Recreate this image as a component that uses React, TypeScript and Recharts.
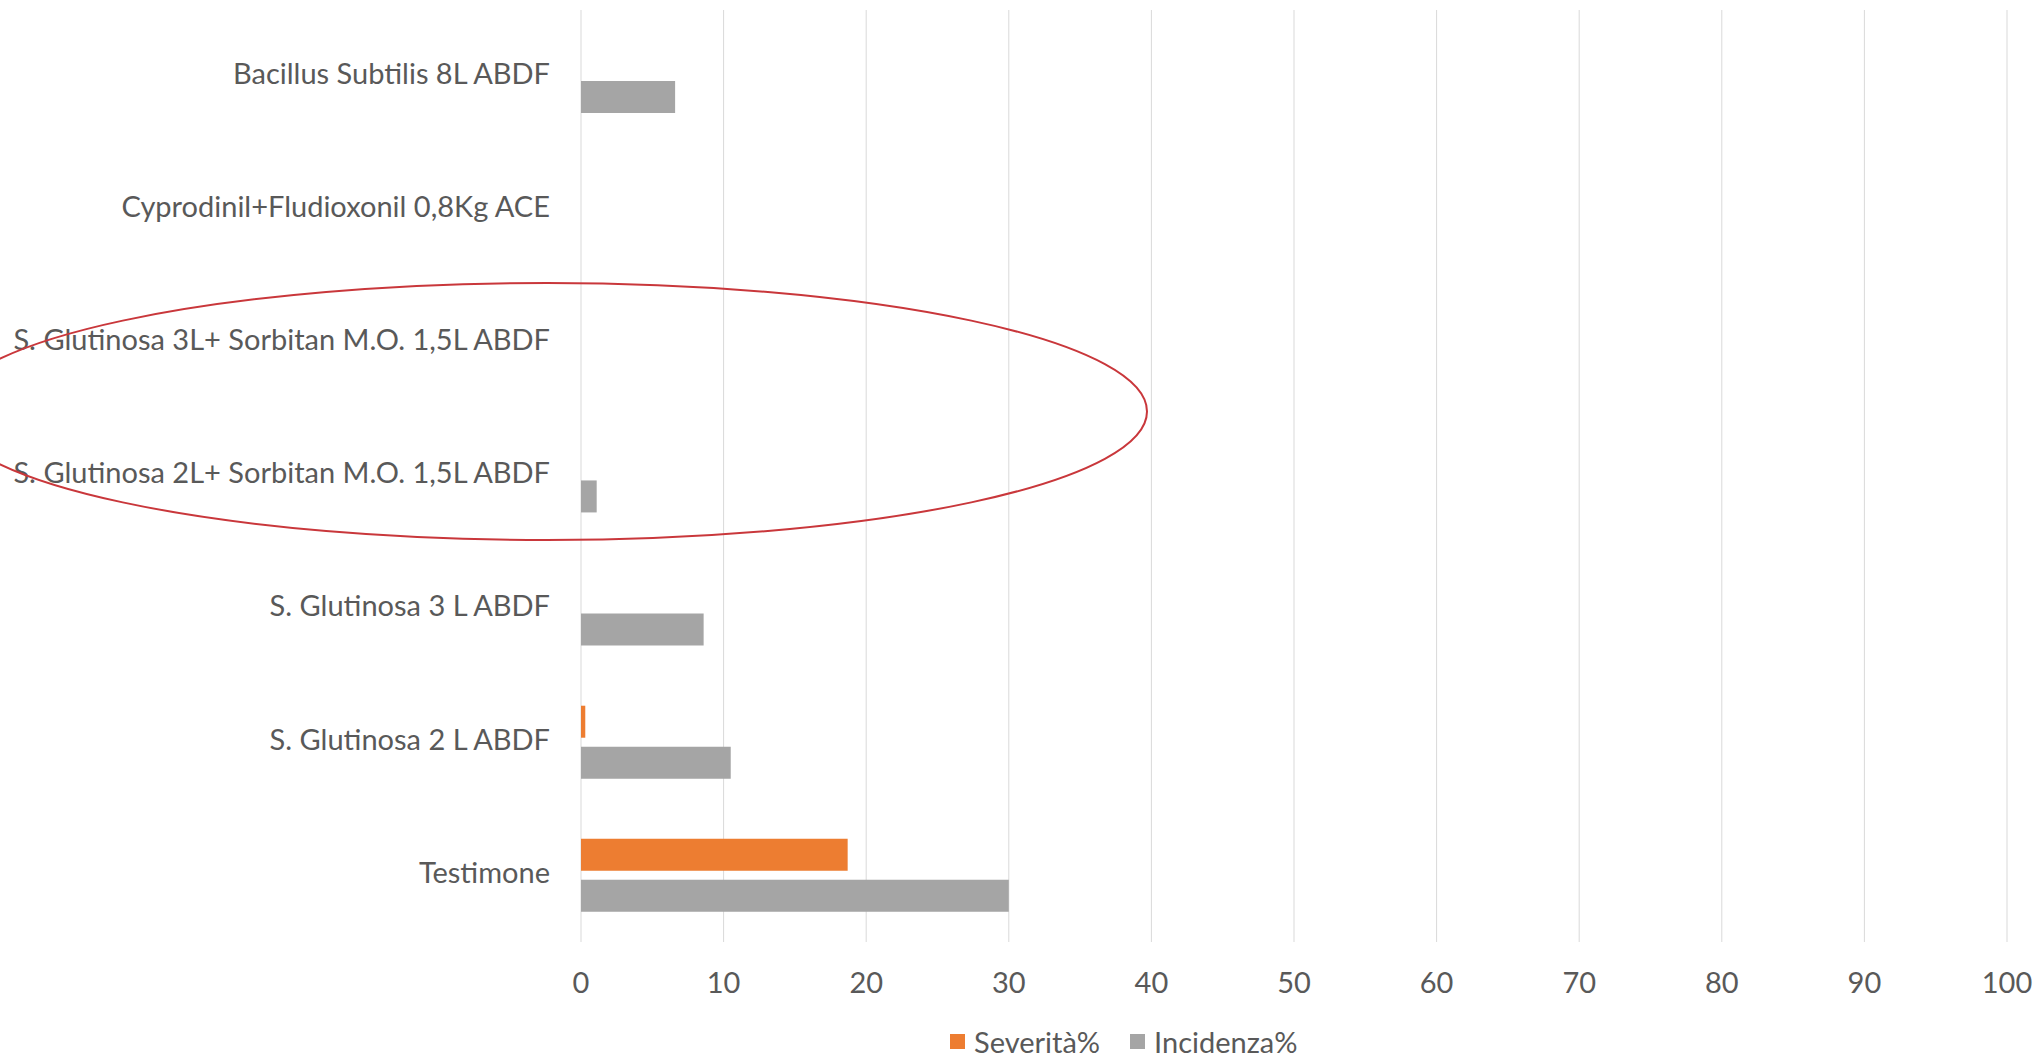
import React from 'react';
import {
  BarChart,
  Bar,
  XAxis,
  YAxis,
  CartesianGrid,
  Legend,
} from 'recharts';

// Treatments, top to bottom as shown
const treatments = [
  'Bacillus Subtilis 8L ABDF',
  'Cyprodinil+Fludioxonil 0,8Kg ACE',
  'S. Glutinosa 3L+ Sorbitan M.O. 1,5L ABDF',
  'S. Glutinosa 2L+ Sorbitan M.O. 1,5L ABDF',
  'S. Glutinosa 3 L ABDF',
  'S. Glutinosa 2 L ABDF',
  'Testimone',
];

const severita = [0, 0, 0, 0, 0, 0.3, 18.7];
const incidenza = [6.6, 0, 0, 1.1, 8.6, 10.5, 30];

const xTicks = [0, 10, 20, 30, 40, 50, 60, 70, 80, 90, 100];
const legendOrder = ['severita', 'incidenza'];

const data = treatments.map((name, i) => ({
  name,
  severita: severita[i],
  incidenza: incidenza[i],
}));

const FONT = 'Lato, "Open Sans", sans-serif';
const TEXT = '#595959';

const LegendContent = ({ payload }: any) => {
  const items = [...(payload || [])].sort(
    (a: any, b: any) => legendOrder.indexOf(a.dataKey) - legendOrder.indexOf(b.dataKey)
  );
  return (
    <div style={{ display: 'flex', alignItems: 'center', fontFamily: FONT, fontSize: 29, color: TEXT }}>
      {items.map((p: any, i: number) => (
        <div key={i} style={{ display: 'flex', alignItems: 'center', marginRight: i === 0 ? 30 : 0 }}>
          <span style={{ display: 'inline-block', width: 15, height: 15, background: p.color, marginRight: 9 }} />
          <span>{p.value}</span>
        </div>
      ))}
    </div>
  );
};

const App = () => {
  return (
    <div style={{ position: 'absolute', left: 0, top: 0, width: 2036, height: 1056, background: '#fff' }}>
      <BarChart
        width={2036}
        height={1056}
        data={data}
        layout="vertical"
        margin={{ top: 10, right: 29, bottom: 54, left: 0 }}
        barSize={32}
        barGap={9}
      >
        <CartesianGrid horizontal={false} stroke="#D9D9D9" />
        <XAxis
          type="number"
          domain={[0, 100]}
          ticks={xTicks}
          interval={0}
          axisLine={false}
          tickLine={false}
          tickSize={0}
          tickMargin={30}
          height={60}
          tick={{ fill: TEXT, fontSize: 29, fontFamily: FONT }}
        />
        <YAxis
          type="category"
          dataKey="name"
          width={581}
          axisLine={false}
          tickLine={false}
          tickSize={0}
          tickMargin={31}
          interval={0}
          tick={{ fill: TEXT, fontSize: 29, fontFamily: FONT, dy: -3 }}
        />
        <Legend
          layout="horizontal"
          verticalAlign="middle"
          align="center"
          content={<LegendContent />}
          wrapperStyle={{ position: 'absolute', left: 950, top: 1024, width: 'auto' }}
        />
        <Bar dataKey="severita" name="Severità%" fill="#ED7D31" isAnimationActive={false} />
        <Bar dataKey="incidenza" name="Incidenza%" fill="#A5A5A5" isAnimationActive={false} />
      </BarChart>
      <svg
        width={2036}
        height={1056}
        style={{ position: 'absolute', left: 0, top: 0, pointerEvents: 'none' }}
      >
        <ellipse cx={547} cy={411.5} rx={600} ry={128.5} fill="none" stroke="#C9373B" strokeWidth={2} />
      </svg>
    </div>
  );
};

export default App;
